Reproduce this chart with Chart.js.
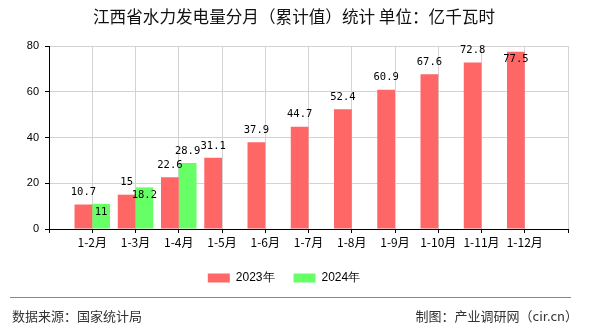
<!DOCTYPE html>
<html>
<head>
<meta charset="utf-8">
<script src="https://cdn.jsdelivr.net/npm/chart.js@4/dist/chart.umd.min.js"></script>
<style>
  body { margin: 0; background: #fff; }
  #wrap { position: relative; width: 590px; height: 330px; font-family: "Noto Sans CJK SC", sans-serif; }
  #chart { position: absolute; left: 0; top: 0; }
  .title { position: absolute; left: 0; width: 588px; top: 4px; text-align: center; font-size: 16.6px; color: #111; }
  .rule { position: absolute; left: 10px; width: 561px; top: 297px; border-top: 1px solid #888; }
  .foot { position: absolute; top: 306px; font-size: 13px; color: #333; }
</style>
</head>
<body>
<div id="wrap">
  <canvas id="chart" width="590" height="330"></canvas>
  <div class="title">江西省水力发电量分月（累计值）统计 单位：亿千瓦时</div>
  <div class="rule"></div>
  <div class="foot" style="left:12px">数据来源：国家统计局</div>
  <div class="foot" style="right:12px">制图：产业调研网（cir.cn）</div>
</div>
<script>
// months shown along the bottom
const categories = ["1-2月", "1-3月", "1-4月", "1-5月", "1-6月", "1-7月", "1-8月", "1-9月", "1-10月", "1-11月", "1-12月"];
const values2023 = [10.7, 15, 22.6, 31.1, 37.9, 44.7, 52.4, 60.9, 67.6, 72.8, 77.5];
const values2024 = [11, 18.2, 28.9];
const yTicks = [0, 20, 40, 60, 80];

// month i sits at x = i + 1, leaving an empty slot at 0 and at 12
const toPoints = (vals) => vals.map((v, i) => ({ x: i + 1, y: v }));

// value text above each bar; pushed inside the bar when it would leave the plot or hit another label
const valueLabels = {
  id: "valueLabels",
  afterDatasetsDraw(chart) {
    const ctx = chart.ctx;
    const area = chart.chartArea;
    const placed = [];
    ctx.save();
    ctx.font = '10.5px "DejaVu Sans Mono"';
    ctx.fillStyle = "#000";
    ctx.textAlign = "center";
    ctx.textBaseline = "middle";
    chart.data.datasets.forEach((ds, i) => {
      chart.getDatasetMeta(i).data.forEach((bar, j) => {
        const text = String(ds.data[j].y);
        const w = ctx.measureText(text).width;
        const hits = (yy) => placed.some(b =>
          Math.abs(b.x - bar.x) < (b.w + w) / 2 && Math.abs(b.y - yy) < 10);
        let y = bar.y - 12;
        if (y < area.top || hits(y)) y = bar.y + 8;
        placed.push({ x: bar.x, y: y, w: w });
        ctx.fillText(text, bar.x, y);
      });
    });
    ctx.restore();
  }
};

document.addEventListener("DOMContentLoaded", () => {
  new Chart(document.getElementById("chart"), {
    type: "bar",
    data: {
      datasets: [
        {
          label: "2023年",
          data: toPoints(values2023),
          backgroundColor: "rgb(255,102,102)",
          categoryPercentage: 0.82,
          barPercentage: 1
        },
        {
          label: "2024年",
          data: toPoints(values2024),
          backgroundColor: "rgb(102,255,102)",
          categoryPercentage: 0.82,
          barPercentage: 1
        }
      ]
    },
    options: {
      responsive: false,
      animation: false,
      events: [],
      layout: { padding: { top: 46, right: 22, left: 0, bottom: 36 } },
      scales: {
        x: {
          type: "linear",
          min: 0,
          max: 12,
          offset: false,
          afterFit: (scale) => { scale.height = 24; },
          grid: { offset: false, color: "#d3d3d3", tickColor: "#000", tickLength: 4 },
          border: { color: "#000" },
          ticks: {
            stepSize: 1,
            autoSkip: false,
            maxRotation: 0,
            padding: 2,
            color: "#000",
            font: { family: "Noto Sans CJK SC", size: 12 },
            callback: (v) => categories[v - 1] || ""
          }
        },
        y: {
          min: 0,
          max: 80,
          afterFit: (scale) => { scale.width = 49; },
          afterBuildTicks: (scale) => { scale.ticks = yTicks.map(v => ({ value: v })); },
          grid: { color: "#d3d3d3", tickColor: "#000", tickLength: 4 },
          border: { color: "#000" },
          ticks: {
            padding: 6,
            color: "#000",
            font: { family: "Liberation Sans", size: 11 }
          }
        }
      },
      plugins: {
        legend: {
          position: "bottom",
          labels: {
            boxWidth: 22,
            boxHeight: 9,
            padding: 19,
            color: "#000",
            font: { family: "Liberation Sans", size: 12 }
          }
        },
        tooltip: { enabled: false }
      }
    },
    plugins: [valueLabels]
  });
});
</script>
</body>
</html>
